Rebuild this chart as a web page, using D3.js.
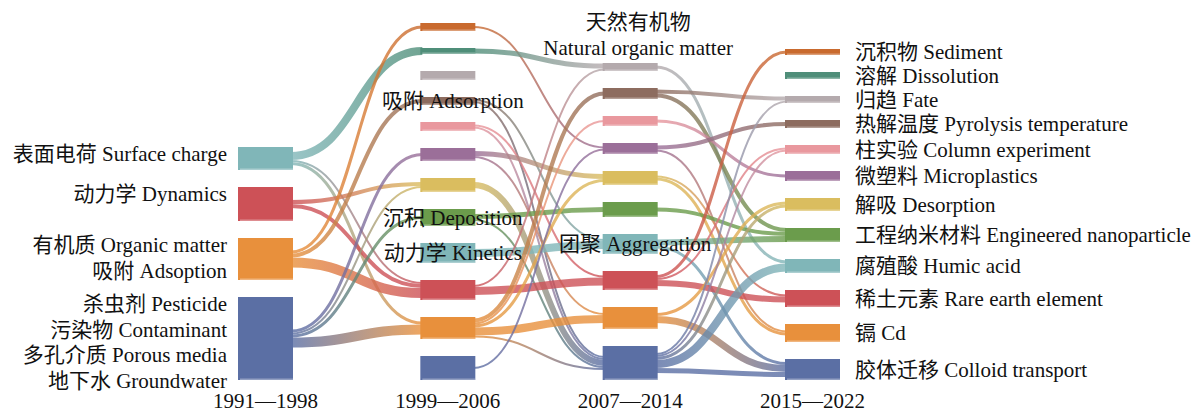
<!DOCTYPE html>
<html>
<head>
<meta charset="utf-8">
<script src="https://cdn.jsdelivr.net/npm/d3@7"></script>
<style>
body { margin: 0; background: #fff; }
text { font-family: "Liberation Serif", "Times New Roman", "Noto Sans CJK SC", serif; font-size: 21px; fill: #111; }
</style>
</head>
<body>
<svg width="1199" height="415"></svg>
<script>
// periods (columns)
const periods = ["1991—1998", "1999—2006", "2007—2014", "2015—2022"];

// one colour per row, counted from the bottom of each column
const rowColors = ["#5b6fa4", "#e8903c", "#cd5157", "#80b6b8", "#6b9c4c", "#dabd5f",
                   "#9b6f99", "#e9989e", "#8d6c5f", "#b4aaad", "#4f8e79", "#c96a2e"];

// node sizes per column, bottom row first
const values0 = [83, 42, 34, 23];
const values1 = [24, 22, 20, 20, 17, 14, 13, 9, 8, 9, 6, 8];
const values2 = [34, 22, 19, 20, 15, 14, 11, 10, 11, 8];
const values3 = [21, 18, 17, 14, 14, 13, 10, 9, 8, 7, 7, 6];

// labels per column, bottom row first
const labels0 = [["杀虫剂 Pesticide", "污染物 Contaminant", "多孔介质 Porous media", "地下水 Groundwater"],
                 ["有机质 Organic matter", "吸附 Adsoption"],
                 ["动力学 Dynamics"],
                 ["表面电荷 Surface charge"]];
const labels1 = [null, null, null, "动力学 Kinetics", "沉积 Deposition", null, null, null, "吸附 Adsorption", null, null, null];
const labels2 = [null, null, null, "团聚 Aggregation", null, null, null, null, null, null];
const topLabel2 = ["天然有机物", "Natural organic matter"];
const labels3 = ["胶体迁移 Colloid transport", "镉 Cd", "稀土元素 Rare earth element", "腐殖酸 Humic acid",
                 "工程纳米材料 Engineered nanoparticle", "解吸 Desorption", "微塑料 Microplastics",
                 "柱实验 Column experiment", "热解温度 Pyrolysis temperature", "归趋 Fate",
                 "溶解 Dissolution", "沉积物 Sediment"];

// flows [source row, target row, value]
const links01 = [[3, 10, 8], [3, 1, 3], [3, 2, 2], [2, 5, 4], [2, 2, 4], [1, 11, 3], [1, 8, 4],
                 [1, 2, 10], [0, 6, 3], [0, 5, 2], [0, 4, 3], [0, 1, 10]];
const links12 = [[11, 6, 2], [10, 9, 5], [8, 3, 2], [8, 0, 2], [7, 2, 2], [7, 0, 2], [6, 1, 2],
                 [6, 5, 5], [5, 0, 6], [4, 4, 5], [4, 0, 2], [3, 3, 8], [2, 2, 8], [2, 9, 2],
                 [1, 1, 8], [1, 8, 4], [1, 7, 2], [1, 5, 3], [1, 0, 2], [0, 6, 2]];
const links23 = [[9, 3, 3], [8, 9, 4], [8, 4, 4], [7, 6, 3], [6, 8, 4], [6, 1, 2], [5, 1, 3],
                 [5, 2, 2], [4, 4, 4], [3, 4, 6], [3, 0, 3], [2, 11, 3], [2, 7, 2], [2, 2, 6],
                 [1, 5, 3], [1, 0, 7], [0, 3, 8], [0, 5, 3], [0, 7, 2], [0, 9, 2], [0, 0, 5]];

const svg = d3.select("svg");
const bottom = 380, pad = 17, nodeW = 55;

const x = d3.scalePoint().domain(periods).range([238, 785]);
const h = d3.scaleLinear().domain([0, 100]).range([0, 100]);

// stack nodes upward from the bottom
let nodes = [values0, values1, values2, values3].map((vals, c) => {
    let y = bottom;
    return vals.map((v, r) => {
        const n = {c: c, r: r, x0: x(periods[c]), y1: y, y0: y - h(v), color: rowColors[r], out: [], inn: []};
        n.x1 = n.x0 + nodeW;
        n.cy = (n.y0 + n.y1) / 2;
        y = n.y0 - pad;
        return n;
    });
});

let links = [];
[links01, links12, links23].forEach((list, g) => {
    list.forEach(d => {
        const l = {s: nodes[g][d[0]], t: nodes[g + 1][d[1]], w: h(d[2])};
        l.s.out.push(l);
        l.t.inn.push(l);
        links.push(l);
    });
});

// place link ends centred on each node
nodes.flat().forEach(n => {
    n.out.sort((a, b) => a.t.cy - b.t.cy);
    let yy = n.cy - d3.sum(n.out, l => l.w) / 2;
    n.out.forEach(l => { l.sy = yy + l.w / 2; yy += l.w; });
    n.inn.sort((a, b) => a.s.cy - b.s.cy);
    yy = n.cy - d3.sum(n.inn, l => l.w) / 2;
    n.inn.forEach(l => { l.ty = yy + l.w / 2; yy += l.w; });
});

const defs = svg.append("defs");
links.forEach((l, i) => {
    const gr = defs.append("linearGradient")
        .attr("id", "g" + i)
        .attr("gradientUnits", "userSpaceOnUse")
        .attr("x1", l.s.x1).attr("x2", l.t.x0);
    gr.append("stop").attr("offset", "0%").attr("stop-color", l.s.color);
    gr.append("stop").attr("offset", "100%").attr("stop-color", l.t.color);
});

const linkPath = d3.linkHorizontal();
svg.append("g").selectAll("path")
    .data(links)
    .enter().append("path")
    .attr("d", l => linkPath({source: [l.s.x1 - 2, l.sy], target: [l.t.x0 + 2, l.ty]}))
    .attr("fill", "none")
    .attr("stroke", (l, i) => "url(#g" + i + ")")
    .attr("stroke-width", l => l.w)
    .attr("stroke-opacity", 0.8);

// nodes
const ng = svg.append("g").selectAll("g")
    .data(nodes.flat())
    .enter().append("g");
ng.append("rect")
    .attr("x", n => n.x0).attr("y", n => n.y0)
    .attr("width", nodeW).attr("height", n => n.y1 - n.y0)
    .attr("fill", n => n.color);
ng.append("rect")
    .attr("x", n => n.x0 + 2).attr("y", n => n.y1 - 1.5)
    .attr("width", nodeW - 2).attr("height", 1.5)
    .attr("fill", "#fff").attr("opacity", 0.35);

// left labels
const tg = svg.append("g");
nodes[0].forEach((n, r) => {
    labels0[r].forEach((s, i) => {
        tg.append("text")
            .attr("x", n.x0 - 11).attr("y", n.y0 + 7 + i * 25.5)
            .attr("dy", "0.35em").attr("text-anchor", "end").text(s);
    });
});

// middle labels
[[nodes[1], labels1], [nodes[2], labels2]].forEach(([col, labs]) => {
    col.forEach((n, r) => {
        if (!labs[r]) return;
        tg.append("text")
            .attr("x", (n.x0 + n.x1) / 2 + 5).attr("y", n.cy)
            .attr("dy", "0.35em").attr("text-anchor", "middle").text(labs[r]);
    });
});
const top2 = nodes[2][nodes[2].length - 1];
topLabel2.forEach((s, i) => {
    tg.append("text")
        .attr("x", (top2.x0 + top2.x1) / 2 + 8).attr("y", top2.y0 - 41 + i * 26)
        .attr("dy", "0.35em").attr("text-anchor", "middle").text(s);
});

// right labels
nodes[3].forEach((n, r) => {
    tg.append("text")
        .attr("x", n.x1 + 15).attr("y", n.cy)
        .attr("dy", "0.35em").text(labels3[r]);
});

// period labels
svg.append("g").selectAll("text")
    .data(periods)
    .enter().append("text")
    .attr("x", d => x(d) + nodeW / 2)
    .attr("y", 401)
    .attr("dy", "0.35em")
    .attr("text-anchor", "middle")
    .text(d => d);
</script>
</body>
</html>
